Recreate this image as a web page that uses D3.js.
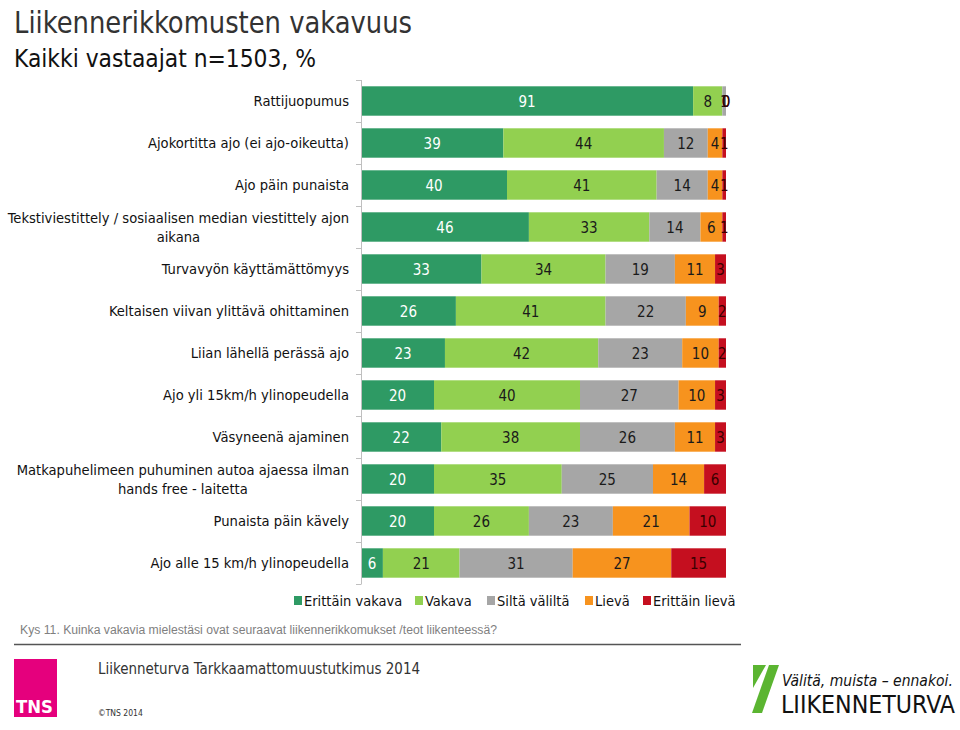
<!DOCTYPE html>
<html>
<head>
<meta charset="utf-8">
<script src="https://cdn.jsdelivr.net/npm/d3@7"></script>
<style>
html,body{margin:0;padding:0;background:#fff;}
svg{display:block;}
</style>
</head>
<body>
<svg id="chart" width="960" height="730"></svg>
<script>
// ---- data ----
const categories = [
  "Rattijuopumus",
  "Ajokortitta ajo (ei ajo-oikeutta)",
  "Ajo päin punaista",
  "Tekstiviestittely / sosiaalisen median viestittely ajon\naikana",
  "Turvavyön käyttämättömyys",
  "Keltaisen viivan ylittävä ohittaminen",
  "Liian lähellä perässä ajo",
  "Ajo yli 15km/h ylinopeudella",
  "Väsyneenä ajaminen",
  "Matkapuhelimeen puhuminen autoa ajaessa ilman\nhands free - laitetta",
  "Punaista päin kävely",
  "Ajo alle 15 km/h ylinopeudella"
];
const seriesNames = ["Erittäin vakava", "Vakava", "Siltä väliltä", "Lievä", "Erittäin lievä"];
const erittainVakava = [91, 39, 40, 46, 33, 26, 23, 20, 22, 20, 20, 6];
const vakava         = [8, 44, 41, 33, 34, 41, 42, 40, 38, 35, 26, 21];
const siltaValilta   = [1, 12, 14, 14, 19, 22, 23, 27, 26, 25, 23, 31];
const lieva          = [0, 4, 4, 6, 11, 9, 10, 10, 11, 14, 21, 27];
const erittainLieva  = [0, 1, 1, 1, 3, 2, 2, 3, 3, 6, 10, 15];
const seriesColors = ["#2e9a64", "#92d050", "#a6a6a6", "#f7931e", "#c50f1f"];
const labelColors  = ["#ffffff", "#1a1a1a", "#1a1a1a", "#1a1a1a", "#3a0000"];

const seriesValues = [erittainVakava, vakava, siltaValilta, lieva, erittainLieva];
const rows = categories.map((c, i) => {
  const o = {cat: c};
  seriesNames.forEach((s, k) => o[s] = seriesValues[k][i]);
  return o;
});

const svg = d3.select("#chart");
const FONT = "'DejaVu Sans Condensed','DejaVu Sans',sans-serif";

// ---- titles ----
svg.append("text").attr("x", 14).attr("y", 33)
  .attr("font-family", FONT).attr("font-size", 30).attr("fill", "#333")
  .attr("textLength", 398).attr("lengthAdjust", "spacingAndGlyphs")
  .text("Liikennerikkomusten vakavuus");
svg.append("text").attr("x", 14).attr("y", 67)
  .attr("font-family", FONT).attr("font-size", 24).attr("fill", "#111")
  .attr("textLength", 302).attr("lengthAdjust", "spacingAndGlyphs")
  .text("Kaikki vastaajat n=1503, %");

// ---- scales ----
const x = d3.scaleLinear().domain([0, 100]).range([361, 726]);
const y = d3.scaleBand().domain(categories).range([80, 584])
  .paddingInner(0.3).paddingOuter(0.15);

const stack = d3.stack().keys(seriesNames);
const stacked = stack(rows);

// bars
const g = svg.append("g");
stacked.forEach((layer, k) => {
  g.selectAll(null).data(layer).enter().append("rect")
    .attr("x", d => x(d[0]))
    .attr("y", d => y(d.data.cat))
    .attr("width", d => Math.max(0, x(d[1]) - x(d[0])))
    .attr("height", y.bandwidth())
    .attr("fill", seriesColors[k]);
});

// axis line with ticks at category boundaries
const axisG = svg.append("g");
axisG.append("line").attr("x1", 361.5).attr("x2", 361.5).attr("y1", 80).attr("y2", 584)
  .attr("stroke", "#bfbfbf").attr("stroke-width", 1);
const step = y.step();
d3.range(categories.length + 1).forEach(k => {
  const yy = Math.round(80 + k * step) + 0.5;
  axisG.append("line").attr("x1", 356).attr("x2", 361.5).attr("y1", yy).attr("y2", yy)
    .attr("stroke", "#bfbfbf").attr("stroke-width", 1);
});

// value labels
stacked.forEach((layer, k) => {
  g.selectAll(null).data(layer).enter().append("text")
    .attr("x", d => (x(d[0]) + x(d[1])) / 2)
    .attr("y", d => y(d.data.cat) + y.bandwidth() / 2 + 5.5)
    .attr("text-anchor", "middle")
    .attr("font-family", FONT).attr("font-size", 15)
    .attr("fill", labelColors[k])
    .text(d => d[1] - d[0]);
});

// category labels
categories.forEach(c => {
  const lines = c.split("\n");
  const lg = svg.append("g");
  const cy = y(c) + y.bandwidth() / 2;
  const lh = 19;
  const texts = lines.map((ln, i) => lg.append("text")
    .attr("y", cy + 5 + (i - (lines.length - 1) / 2) * lh)
    .attr("font-family", FONT).attr("font-size", 14.6).attr("fill", "#111")
    .attr("text-anchor", "middle")
    .text(ln));
  const widths = texts.map(t => t.node().getComputedTextLength());
  const maxW = d3.max(widths);
  const right = 349;
  texts.forEach(t => t.attr("x", right - maxW / 2));
});

// legend
const legendItems = [
  {name: seriesNames[0], x: 294},
  {name: seriesNames[1], x: 415},
  {name: seriesNames[2], x: 487},
  {name: seriesNames[3], x: 585},
  {name: seriesNames[4], x: 643}
];
const lgd = svg.append("g");
legendItems.forEach((it, k) => {
  lgd.append("rect").attr("x", it.x).attr("y", 596).attr("width", 8).attr("height", 9)
    .attr("fill", seriesColors[k]);
  lgd.append("text").attr("x", it.x + 10).attr("y", 606)
    .attr("font-family", FONT).attr("font-size", 14.5).attr("fill", "#111")
    .text(it.name);
});

// question footnote
svg.append("text").attr("x", 20).attr("y", 634)
  .attr("font-family", "'Liberation Sans',Arial,sans-serif").attr("font-size", 12)
  .attr("fill", "#7f7f7f")
  .attr("textLength", 477).attr("lengthAdjust", "spacingAndGlyphs")
  .text("Kys 11. Kuinka vakavia mielestäsi ovat seuraavat liikennerikkomukset /teot liikenteessä?");
svg.append("line").attr("x1", 14).attr("x2", 741).attr("y1", 644.5).attr("y2", 644.5)
  .attr("stroke", "#555").attr("stroke-width", 1.5);

// TNS block
svg.append("rect").attr("x", 14).attr("y", 659).attr("width", 43).attr("height", 58)
  .attr("fill", "#e5007d");
svg.append("text").attr("x", 16).attr("y", 713)
  .attr("font-family", FONT).attr("font-size", 17).attr("font-weight", "bold").attr("fill", "#fff")
  .attr("textLength", 37).attr("lengthAdjust", "spacingAndGlyphs")
  .text("TNS");
svg.append("text").attr("x", 98).attr("y", 674)
  .attr("font-family", FONT).attr("font-size", 16).attr("fill", "#333")
  .attr("textLength", 322).attr("lengthAdjust", "spacingAndGlyphs")
  .text("Liikenneturva Tarkkaamattomuustutkimus 2014");
svg.append("text").attr("x", 98).attr("y", 716)
  .attr("font-family", FONT).attr("font-size", 8.5).attr("fill", "#333")
  .text("©TNS 2014");

// Liikenneturva logo
const logo = svg.append("g");
logo.append("path").attr("d", "M753,665 L766,665 L753,688 Z").attr("fill", "#5bb531");
logo.append("path").attr("d", "M769,665 L779,665 L762,713 L752,713 Z").attr("fill", "#5bb531");
logo.append("text").attr("x", 782).attr("y", 686)
  .attr("font-family", FONT).attr("font-size", 15.5).attr("font-style", "italic").attr("fill", "#111")
  .text("Välitä, muista – ennakoi.");
logo.append("text").attr("x", 781).attr("y", 713)
  .attr("font-family", FONT).attr("font-size", 25).attr("fill", "#111")
  .attr("textLength", 174).attr("lengthAdjust", "spacingAndGlyphs")
  .text("LIIKENNETURVA");
</script>
</body>
</html>
